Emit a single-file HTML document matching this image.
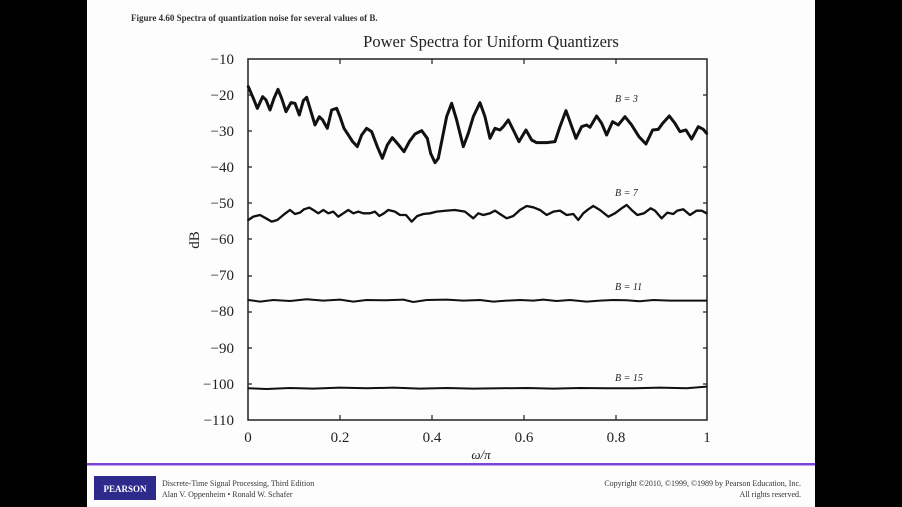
<!DOCTYPE html>
<html><head><meta charset="utf-8"><style>
body{margin:0;width:902px;height:507px;overflow:hidden;background:#000;}
svg{display:block}
</style></head><body>
<svg width="902" height="507" viewBox="0 0 902 507" xmlns="http://www.w3.org/2000/svg">
<rect x="87" y="0" width="728" height="507" fill="#fdfdfd"/>
<text x="131" y="21" font-family="Liberation Serif, serif" font-size="9" font-weight="bold" fill="#333">Figure 4.60  Spectra of quantization noise for several values of B.</text>
<text x="491" y="47" text-anchor="middle" font-family="Liberation Serif, serif" font-size="16.5" fill="#222">Power Spectra for Uniform Quantizers</text>
<g font-family="Liberation Serif, serif" font-size="15" fill="#222" text-anchor="end">
<text x="234" y="64">−10</text><text x="234" y="100">−20</text><text x="234" y="136">−30</text>
<text x="234" y="172">−40</text><text x="234" y="208">−50</text><text x="234" y="244">−60</text>
<text x="234" y="280">−70</text><text x="234" y="316">−80</text><text x="234" y="353">−90</text>
<text x="234" y="389">−100</text><text x="234" y="425">−110</text>
</g>
<g font-family="Liberation Serif, serif" font-size="15" fill="#222" text-anchor="middle">
<text x="248" y="442">0</text><text x="340" y="442">0.2</text><text x="432" y="442">0.4</text>
<text x="524" y="442">0.6</text><text x="616" y="442">0.8</text><text x="707" y="442">1</text>
<text x="481" y="459" font-style="italic" font-size="13">ω/π</text>
</g>
<text transform="translate(199,240) rotate(-90)" text-anchor="middle" font-family="Liberation Serif, serif" font-size="15" fill="#222">dB</text>
<g font-family="Liberation Serif, serif" font-size="10" font-style="italic" fill="#222">
<text x="615" y="102">B = 3</text><text x="615" y="196">B = 7</text>
<text x="615" y="290">B = 11</text><text x="615" y="381">B = 15</text>
</g>
<rect x="248" y="59" width="459" height="361" fill="none" stroke="#222" stroke-width="1.5"/>
<g stroke="#222" stroke-width="1.2">
<path d="M340 59v5M432 59v5M524 59v5M616 59v5M340 420v-5M432 420v-5M524 420v-5M616 420v-5"/>
<path d="M248 95h4M248 131h4M248 167h4M248 203h4M248 239h4M248 276h4M248 312h4M248 348h4M248 384h4M707 95h-4M707 131h-4M707 167h-4M707 203h-4M707 239h-4M707 276h-4M707 312h-4M707 348h-4M707 384h-4"/>
</g>
<g transform="translate(180,40) scale(0.3333)" fill="none" stroke="#111" stroke-linejoin="round" stroke-linecap="round">
<polyline stroke-width="9" points="205,140 220,175 232,205 248,170 258,180 270,210 282,175 294,148 305,175 318,215 333,188 345,190 358,225 370,182 380,172 393,215 405,255 418,230 428,240 442,265 455,210 470,205 480,230 492,265 505,285 518,305 532,320 545,285 560,265 575,275 592,320 607,355 622,315 637,293 652,310 672,335 688,305 705,282 725,272 742,295 752,340 765,368 775,355 788,290 800,230 815,190 830,240 850,320 865,280 880,230 900,188 915,230 930,295 945,265 960,270 970,260 985,240 1000,270 1017,305 1038,270 1055,300 1070,308 1100,308 1125,305 1140,260 1158,212 1170,245 1188,295 1205,260 1220,255 1230,262 1250,228 1265,250 1280,285 1298,245 1315,255 1335,230 1355,255 1377,290 1398,312 1418,270 1435,268 1448,250 1468,228 1485,250 1500,275 1518,270 1535,297 1555,260 1570,268 1580,280"/>
<polyline stroke-width="7" points="205,540 220,530 240,525 258,535 275,545 292,540 310,525 330,510 345,522 360,518 372,508 388,503 400,510 415,520 430,510 445,520 460,515 475,530 490,520 505,510 520,520 535,515 550,520 570,520 585,515 598,528 612,520 625,510 645,515 660,525 678,525 695,545 712,528 730,522 750,520 770,515 800,512 825,510 855,515 880,535 895,520 910,525 930,520 945,512 960,522 980,535 1000,528 1020,510 1040,498 1060,502 1080,510 1100,525 1120,515 1140,512 1160,525 1180,522 1195,540 1210,520 1225,508 1240,498 1260,510 1285,530 1305,520 1325,505 1340,495 1355,510 1372,525 1392,520 1412,505 1425,512 1445,535 1462,518 1480,522 1492,512 1510,508 1530,525 1550,512 1565,512 1580,520"/>
<polyline stroke-width="6" points="205,780 240,785 280,780 330,783 380,778 430,782 480,779 520,785 560,780 620,781 670,779 700,786 740,780 800,779 850,782 900,780 940,785 980,782 1020,780 1060,782 1090,779 1130,783 1170,780 1220,785 1260,782 1300,780 1340,781 1380,784 1420,780 1470,782 1520,782 1580,782"/>
<polyline stroke-width="6" points="205,1045 260,1047 330,1044 400,1046 480,1043 560,1045 640,1043 720,1046 800,1044 880,1046 960,1045 1040,1044 1120,1046 1200,1044 1280,1045 1360,1045 1440,1043 1520,1045 1580,1040"/>
</g>
<rect x="87" y="463" width="728" height="2.5" fill="#7b45d6"/>
<rect x="94" y="476" width="62" height="24" fill="#2d2a8c"/>
<text x="125" y="492" text-anchor="middle" font-family="Liberation Serif, serif" font-size="9" font-weight="bold" fill="#fff">PEARSON</text>
<g font-family="Liberation Serif, serif" font-size="8" fill="#333">
<text x="162" y="486">Discrete-Time Signal Processing, Third Edition</text>
<text x="162" y="497">Alan V. Oppenheim • Ronald W. Schafer</text>
<text x="801" y="486" text-anchor="end">Copyright ©2010, ©1999, ©1989 by Pearson Education, Inc.</text>
<text x="801" y="497" text-anchor="end">All rights reserved.</text>
</g>
</svg>
</body></html>
